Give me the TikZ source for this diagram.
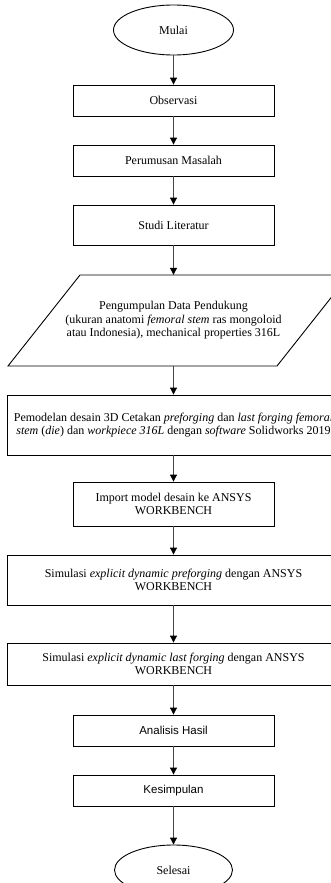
\documentclass[tikz,border=0pt]{standalone}
\usepackage{fontspec}
\setmainfont{Liberation Serif}
\setsansfont{Liberation Sans}
\usetikzlibrary{shapes.geometric,arrows.meta}

\definecolor{linegray}{RGB}{70,70,70}

\begin{document}
\begin{tikzpicture}[x=1pt,y=-1pt,
  base/.style={inner sep=1pt,align=center,font=\fontsize{12}{13.5}\selectfont},
  procbox/.style={base,draw=black,line width=0.9pt,rectangle,minimum width=201pt,minimum height=31pt},
  widebox/.style={procbox,minimum width=332pt},
  terminal/.style={base,draw=black,line width=0.9pt,ellipse,minimum width=120pt,minimum height=50pt},
  sansbox/.style={procbox,font=\sffamily\fontsize{11.5}{13.5}\selectfont},
  arr/.style={draw=linegray,line width=1pt,-{Triangle[length=7pt,width=7pt,color=black]}}
]
\useasboundingbox (0,0) rectangle (331,883);
\clip (0,0) rectangle (331,883);

% flow steps
\node[terminal] (mulai) at (173.5,30) {Mulai};
\node[procbox] (obs) at (173.5,100.5) {Observasi};
\node[procbox] (rumus) at (173.5,160.5) {Perumusan Masalah};
\node[procbox,minimum height=40pt] (studi) at (173.5,225) {Studi Literatur};
\node[base,minimum height=91pt,inner sep=0pt] (data) at (173.5,320.5)
  {Pengumpulan Data Pendukung\\(ukuran anatomi \textit{femoral stem} ras mongoloid\\atau Indonesia), mechanical properties 316L};
\draw[line width=0.9pt]
  ([shift={(-165.5,45.5)}]data.center) -- ([shift={(103.5,45.5)}]data.center)
  -- ([shift={(175.5,-45.5)}]data.center) -- ([shift={(-93.5,-45.5)}]data.center) -- cycle;
\node[widebox,minimum height=60pt] (model) at (173.5,425)
  {Pemodelan desain 3D Cetakan \textit{preforging} dan \textit{last forging femoral}\\\textit{stem} (\textit{die}) dan \textit{workpiece 316L} dengan \textit{software} Solidworks 2019};
\node[procbox,minimum height=44pt] (impor) at (173.5,504) {Import model desain ke ANSYS\\WORKBENCH};
\node[widebox,minimum height=50pt] (simpre) at (173.5,580)
  {Simulasi \textit{explicit dynamic preforging} dengan ANSYS\\WORKBENCH};
\node[widebox,minimum height=42pt] (simlast) at (173.5,664)
  {Simulasi \textit{explicit dynamic last forging} dengan ANSYS\\WORKBENCH};
\node[sansbox] (hasil) at (173.5,730.5) {Analisis Hasil};
\node[sansbox] (simpul) at (173.5,790.5) {Kesimpulan};
\node[terminal,minimum width=118pt] (selesai) at (173.5,870) {Selesai};

% connectors
\draw[arr] (mulai) -- (obs);
\draw[arr] (obs) -- (rumus);
\draw[arr] (rumus) -- (studi);
\draw[arr] (studi) -- (data);
\draw[arr] (data) -- (model);
\draw[arr] (model) -- (impor);
\draw[arr] (impor) -- (simpre);
\draw[arr] (simpre) -- (simlast);
\draw[arr] (simlast) -- (hasil);
\draw[arr] (hasil) -- (simpul);
\draw[arr] (simpul) -- (selesai);
\end{tikzpicture}
\end{document}
